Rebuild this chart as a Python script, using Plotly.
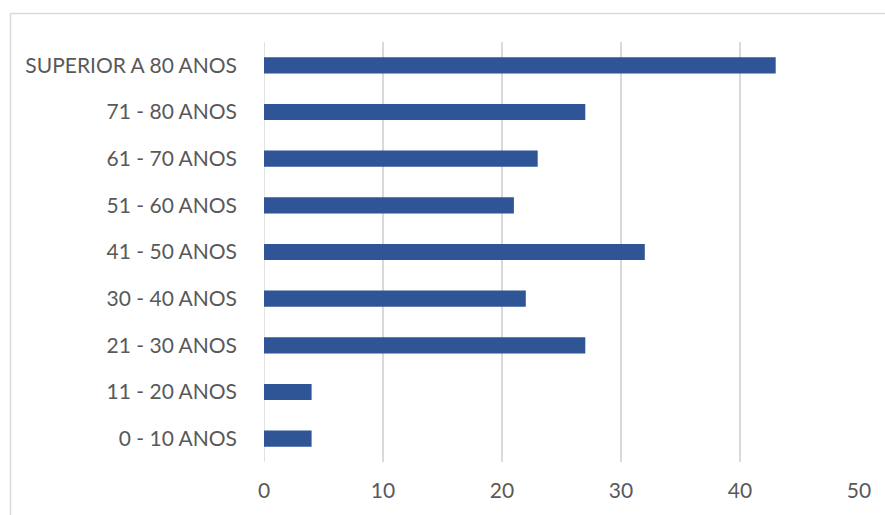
import plotly.graph_objects as go

categories = ["0 - 10 ANOS", "11 - 20 ANOS", "21 - 30 ANOS", "30 - 40 ANOS", "41 - 50 ANOS",
              "51 - 60 ANOS", "61 - 70 ANOS", "71 - 80 ANOS", "SUPERIOR A 80 ANOS"]
values = [4, 4, 27, 22, 32, 21, 23, 27, 43]
x_ticks = [0, 10, 20, 30, 40, 50]

W, H = 885, 515
L, R, T, B = 264, 26, 42, 53
pw, ph = W - L - R, H - T - B

def px(x):
    return (x - L) / pw

def py(y):
    return (H - B - y) / ph

fig = go.Figure(go.Bar(
    x=values, y=categories, orientation="h",
    marker=dict(color="#2F5597", line=dict(width=0)),
    width=0.345,
))

font = dict(family="Lato, Liberation Sans, sans-serif", size=21, color="#595959")

fig.update_layout(
    width=W, height=H,
    margin=dict(l=L, r=R, t=T, b=B, autoexpand=False),
    paper_bgcolor="white", plot_bgcolor="white",
    showlegend=False,
    font=font,
    xaxis=dict(range=[0, 50], tickvals=x_ticks, showgrid=True, gridcolor="#D9D9D9",
               gridwidth=1.5, zeroline=False, showline=False, ticks="",
               ticklabelstandoff=14, tickfont=font, fixedrange=True),
    yaxis=dict(categoryorder="array", categoryarray=categories, range=[-0.5, 8.5],
               showgrid=False, zeroline=False, showline=False, ticks="",
               ticklabelstandoff=26, tickfont=font, fixedrange=True),
    shapes=[
        dict(type="line", xref="paper", yref="paper", x0=px(10.5), x1=px(W + 5),
             y0=py(13.5), y1=py(13.5), line=dict(color="#D9D9D9", width=1.5)),
        dict(type="line", xref="paper", yref="paper", x0=px(10.5), x1=px(10.5),
             y0=py(13.5), y1=py(H + 5), line=dict(color="#D9D9D9", width=1.5)),
        dict(type="line", xref="x", yref="paper", x0=0, x1=0, y0=0, y1=1,
             line=dict(color="#D9D9D9", width=1.5), layer="below"),
    ],
)

fig.write_html("out.html")
